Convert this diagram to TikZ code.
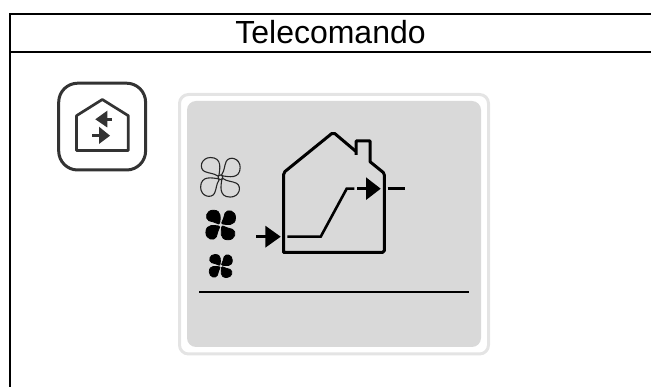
\documentclass[tikz,border=0pt]{standalone}
\usepackage{fontspec}
\setmainfont{Liberation Sans}
\definecolor{screenfill}{HTML}{D9D9D9}
\definecolor{screenedge}{HTML}{E4E4E4}
\definecolor{icondark}{HTML}{333333}
\newcommand{\fanblade}{(-0.07,-0.14) .. controls (-0.04,-0.4) and (0.12,-1.03) .. (-0.52,-1.03) .. controls (-1.0,-1.03) and (-1.14,-0.46) .. (-0.82,-0.3) .. controls (-0.6,-0.2) and (-0.35,-0.22) .. (-0.14,-0.07) .. controls (-0.11,-0.05) and (-0.08,-0.1) .. (-0.07,-0.14) -- cycle}
\tikzset{
  x=1pt,y=-1pt,
  framing/.style={line width=2.2pt,black},
  iconline/.style={line width=2.7pt,icondark,line join=round},
  schem/.style={line width=3pt,black,line join=round},
  duct/.style={line width=2.6pt,black},
  head/.style={fill=black,draw=none},
  iconhead/.style={fill=icondark,draw=none},
  fanoutline/.style={line width=1.1pt,black!85},
  fanfilled/.style={fill=black,draw=black,line width=0.8pt,line join=round},
}
\begin{document}
\begin{tikzpicture}
\useasboundingbox (0,0) rectangle (651,387);
% table frame
\draw[framing] (651,14) -- (10,14) -- (10,387);
\draw[framing] (10,52) -- (651,52);
\node[inner sep=0pt,font=\fontsize{32}{32}\selectfont,anchor=center] (title) at (330.5,32) {Telecomando};
% mode icon
\draw[iconline,line width=3pt,rounded corners=19pt] (58.7,83.2) rectangle (145.6,170);
\draw[iconline] (76.5,115.7) -- (102.3,99.5) -- (128.3,115.7) -- (128.3,150.5) -- (76.5,150.5) -- cycle;
\fill[iconhead] (95.3,119.3) -- (107.3,110.7) -- (107.3,127.5) -- cycle;
\draw[iconline] (105,119.3) -- (112,119.3);
\fill[iconhead] (110,135.7) -- (99,126.7) -- (99,144) -- cycle;
\draw[iconline] (92.3,135.7) -- (101,135.7);
% screen
\draw[line width=3pt,screenedge,rounded corners=9pt] (179.5,94.5) rectangle (488.5,354);
\fill[screenfill,rounded corners=9pt] (187,101) rectangle (481,347);
% fans
\begin{scope}[shift={(220.4,177.3)},scale=19.2]
  \foreach \r in {0,90,180,270}
    \draw[fanoutline,rotate=\r] \fanblade;
\end{scope}
\draw[line width=1.1pt,black!85] (220.4,177.3) circle (2.3);
\begin{scope}[shift={(220.7,225)},scale=14.4]
  \foreach \r in {0,90,180,270}
    \draw[fanfilled,rotate=\r] \fanblade;
\end{scope}
\fill[screenfill] (220.7,225) circle (1.6);
\begin{scope}[shift={(220.8,266)},scale=11.2]
  \foreach \r in {0,90,180,270}
    \draw[fanfilled,rotate=\r] \fanblade;
\end{scope}
\fill[screenfill] (220.8,266) circle (1.2);
% house
\draw[schem] (285.5,252.3) -- (283.5,252.3) [rounded corners=2pt] -- (283.5,172.7) -- (333.3,132.3) -- (356,151.5);
\draw[schem] (356,155) [sharp corners] -- (356,141) -- (370,141) -- (370,161.7) [rounded corners=1.5pt] -- (384.3,173.3) -- (384.3,252.3) -- (283.5,252.3);
% duct
\draw[duct] (287.3,236.7) -- (320.7,236.7) -- (346.7,188.7) -- (354.3,188.7);
\draw[duct] (357.3,188.7) -- (368,188.7);
\fill[head] (380.7,188.7) -- (366,177.3) -- (366,200) -- cycle;
\draw[duct] (387.7,188.7) -- (405.3,188.7);
\draw[duct] (256,236.7) -- (267,236.7);
\fill[head] (280.7,236.7) -- (265.3,225.7) -- (265.3,247.7) -- cycle;
% baseline
\draw[line width=2.2pt,black] (199,291.7) -- (468.7,291.7);
\end{tikzpicture}
\end{document}
